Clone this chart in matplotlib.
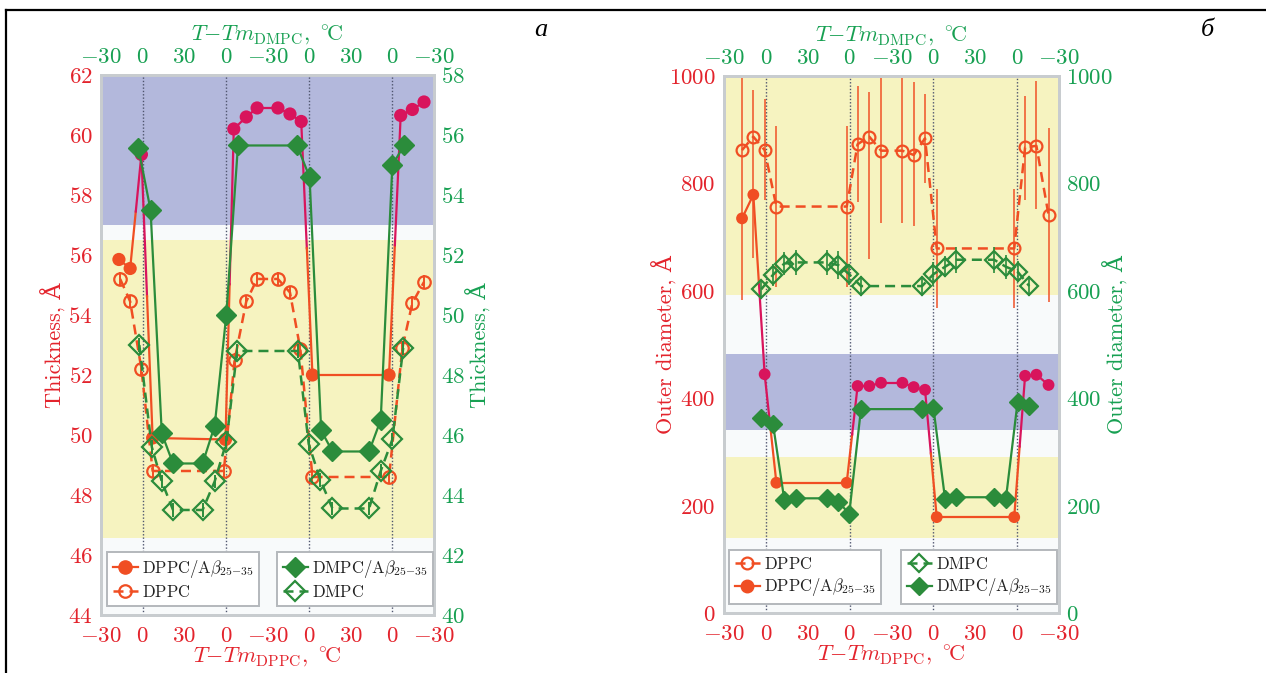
import matplotlib
matplotlib.use("Agg")
import matplotlib.pyplot as plt
from matplotlib.lines import Line2D

plt.rcParams["mathtext.fontset"] = "cm"
plt.rcParams["font.family"] = ["cmr10", "DejaVu Serif"]
plt.rcParams["axes.unicode_minus"] = False

# ---- scan axis: position along the heating/cooling cycle (30 per tick) ----
TICK_POS = [0, 30, 60, 90, 120, 150, 180, 210, 240]
TICK_LABELS = ["-30", "0", "30", "0", "-30", "0", "30", "0", "-30"]
ZERO_LINES = [30, 90, 150, 210]

# ---- panel a: bilayer thickness, A ----
a_dppc_ab_x = [12.9, 21.0, 29.1, 37.2, 89.7, 95.7, 104.7, 112.5, 127.5, 136.2, 144.3, 152.4, 207.6, 216.0, 224.4, 232.8]
a_dppc_ab_y = [55.85, 55.55, 59.35, 49.9, 49.85, 60.2, 60.6, 60.9, 60.9, 60.7, 60.45, 52.0, 52.0, 60.65, 60.85, 61.1]

a_dppc_x = [13.8, 21.0, 29.1, 37.2, 88.5, 96.3, 104.7, 112.5, 127.5, 136.2, 143.7, 152.4, 207.6, 217.2, 224.4, 232.8]
a_dppc_y = [55.2, 54.45, 52.2, 48.8, 48.8, 52.5, 54.45, 55.2, 55.2, 54.75, 52.85, 48.6, 48.6, 52.9, 54.4, 55.1]

a_dmpc_ab_x = [27.0, 35.7, 43.8, 51.9, 73.2, 81.9, 90.3, 98.7, 141.3, 150.3, 158.7, 166.8, 193.2, 201.6, 210.0, 218.4]
a_dmpc_ab_y = [55.55, 53.5, 46.05, 45.05, 45.05, 46.3, 50.0, 55.65, 55.65, 54.6, 46.15, 45.45, 45.45, 46.5, 55.0, 55.65]

a_dmpc_x = [27.6, 36.6, 43.8, 51.9, 73.2, 81.9, 90.3, 98.1, 141.9, 149.7, 158.1, 166.8, 193.2, 201.6, 210.0, 217.8]
a_dmpc_y = [49.0, 45.6, 44.45, 43.5, 43.5, 44.45, 45.75, 48.8, 48.8, 45.7, 44.5, 43.55, 43.55, 44.8, 45.85, 48.9]
a_err = 0.22

a_blue_band = (57.0, 62.0)
a_yellow_band = (46.55, 56.5)

# ---- panel b: outer vesicle diameter, A ----
b_dppc_x = [12.9, 21.0, 29.1, 37.5, 87.9, 95.7, 104.1, 112.5, 127.8, 135.9, 144.0, 152.4, 207.9, 215.7, 223.8, 232.5]
b_dppc_y = [862, 887, 862, 757, 757, 873, 887, 861, 861, 853, 884, 679, 679, 867, 870, 741]
b_dppc_lo = [583, 661, 769, 608, 608, 766, 659, 727, 727, 720, 800, 568, 568, 769, 752, 580]
b_dppc_hi = [996, 973, 958, 906, 906, 981, 971, 996, 996, 988, 966, 789, 789, 963, 991, 903]
b_dppc_ab_y = [735, 779, 445, 243, 243, 423, 423, 429, 429, 421, 416, 179, 179, 442, 444, 425]

b_dmpc_x = [26.7, 35.1, 43.2, 51.6, 73.5, 81.9, 89.7, 98.1, 141.9, 150.0, 158.4, 166.5, 193.5, 201.9, 210.3, 218.7]
b_dmpc_y = [603, 630, 651, 653, 653, 648, 631, 609, 609, 631, 645, 658, 658, 645, 636, 609]
b_dmpc_err = [18, 20, 22, 24, 24, 26, 20, 18, 18, 22, 20, 24, 24, 22, 20, 18]
b_dmpc_ab_y = [364, 352, 211, 214, 214, 208, 185, 380, 380, 383, 212, 216, 216, 212, 393, 385]

b_yellow_bands = [(592, 1000), (141, 290)]
b_blue_band = (342, 482)

# ---- colours ----
RED_TXT = "#e3232c"
GREEN_TXT = "#17a052"
ORANGE = "#f04e23"
CRIMSON = "#d8145c"
GREEN = "#2b8c3b"
BLUE_BAND = "#b3b8dc"
YELLOW_BAND = "#f6f3c0"
FRAME = "#c8cccf"
DOT = "#4f556e"

TICK_FS = 16.5
LABEL_FS = 16
LEG_FS = 12
DASH = (0, (4, 2.4))


def math(s):
    return "$" + s + "$"


def two_tone(ax, x, y, band, ms, lw):
    """Filled series: points inside the blue band in crimson, others orange."""
    cols = [CRIMSON if band[0] <= v <= band[1] else ORANGE for v in y]
    for i in range(len(x) - 1):
        if cols[i] == cols[i + 1]:
            ax.plot(x[i:i + 2], y[i:i + 2], color=cols[i], lw=lw, zorder=3,
                    solid_capstyle="round")
        else:
            xm, ym = (x[i] + x[i + 1]) / 2, (y[i] + y[i + 1]) / 2
            ax.plot([x[i], xm], [y[i], ym], color=cols[i], lw=lw, zorder=3)
            ax.plot([xm, x[i + 1]], [ym, y[i + 1]], color=cols[i + 1], lw=lw, zorder=3)
    ax.scatter(x, y, s=ms ** 2, c=cols, zorder=4, linewidths=0)


def style_axes(ax, ax2, ylim_l, ylim_r, yt_l, yt_r, yname, pads):
    ax.set_facecolor("#f8fafb")
    ax.set_xlim(0, 240)
    ax.set_ylim(*ylim_l)
    ax2.set_ylim(*ylim_r)
    ax.set_xticks(TICK_POS, [math(t) for t in TICK_LABELS])
    ax.set_yticks(yt_l, [math(str(t)) for t in yt_l])
    ax2.set_yticks(yt_r, [math(str(t)) for t in yt_r])
    ax.tick_params(axis="x", length=0, pad=8, labelsize=TICK_FS, labelcolor=RED_TXT)
    ax.tick_params(axis="y", length=0, pad=6, labelsize=TICK_FS, labelcolor=RED_TXT)
    ax2.tick_params(axis="y", length=0, pad=5, labelsize=TICK_FS, labelcolor=GREEN_TXT)

    top = ax.secondary_xaxis("top")
    top.set_xticks(TICK_POS, [math(t) for t in TICK_LABELS])
    top.tick_params(length=0, pad=6, labelsize=TICK_FS, labelcolor=GREEN_TXT)
    top.set_xlabel(r"$T{-}Tm_{\mathrm{DMPC}},\ {}^{\circ}\!\mathrm{C}$", fontsize=LABEL_FS,
                   color=GREEN_TXT, labelpad=5)
    ax.set_xlabel(r"$T{-}Tm_{\mathrm{DPPC}},\ {}^{\circ}\!\mathrm{C}$", fontsize=LABEL_FS,
                  color=RED_TXT, labelpad=0)
    ax.set_ylabel(yname + ", Å", fontsize=LABEL_FS, color=RED_TXT, labelpad=pads[0])
    ax2.set_ylabel(yname + ", Å", fontsize=LABEL_FS, color=GREEN_TXT, labelpad=pads[1])
    for a in (ax, ax2, top):
        for sp in a.spines.values():
            sp.set_color(FRAME)
            sp.set_linewidth(2)
    for xz in ZERO_LINES:
        ax.axvline(xz, color=DOT, lw=1.0, ls=(0, (1, 1.4)), zorder=1)


def legend(ax, handles, labels, loc, anchor):
    leg = ax.legend(handles, labels, loc=loc, bbox_to_anchor=anchor, borderaxespad=0,
                    fontsize=LEG_FS, frameon=True, fancybox=False, framealpha=1,
                    handlelength=1.5, handletextpad=0.25, labelspacing=0.25,
                    borderpad=0.35)
    leg.get_frame().set_edgecolor("#b4b8bc")
    leg.get_frame().set_linewidth(1.4)
    leg.set_zorder(10)
    for t in leg.get_texts():
        t.set_color("#222222")
    return leg


LAB_AB = r"$\mathrm{DPPC/A}\beta_{25{-}35}$"
LAB_DPPC = r"$\mathrm{DPPC}$"
LAB_MAB = r"$\mathrm{DMPC/A}\beta_{25{-}35}$"
LAB_DMPC = r"$\mathrm{DMPC}$"

fig = plt.figure(figsize=(12.66, 6.73), dpi=100)

# ================= panel a =================
ax = fig.add_axes([0.0798, 0.0862, 0.263, 0.8024])
ax2 = ax.twinx()
ax.axhspan(*a_blue_band, color=BLUE_BAND, lw=0, zorder=0)
ax.axhspan(*a_yellow_band, color=YELLOW_BAND, lw=0, zorder=0)
style_axes(ax, ax2, (44, 62), (40, 58), list(range(44, 63, 2)), list(range(40, 59, 2)),
           "Thickness", (2, 0))

two_tone(ax, a_dppc_ab_x, a_dppc_ab_y, a_blue_band, 9.5, 1.6)
ax.errorbar(a_dppc_x, a_dppc_y, yerr=a_err, fmt="none", ecolor=ORANGE, elinewidth=1.4, zorder=3)
h_dppc, = ax.plot(a_dppc_x, a_dppc_y, ls=DASH, lw=1.8, color=ORANGE, marker="o", ms=9,
                  mfc="none", mec=ORANGE, mew=1.6, zorder=3)

ax2.plot(a_dmpc_ab_x, a_dmpc_ab_y, color=GREEN, lw=1.6, zorder=3)
ax2.plot(a_dmpc_ab_x, a_dmpc_ab_y, ls="none", marker="D", ms=10, color=GREEN, zorder=4)
ax2.errorbar(a_dmpc_x, a_dmpc_y, yerr=a_err, fmt="none", ecolor=GREEN, elinewidth=1.4, zorder=3)
h_dmpc, = ax2.plot(a_dmpc_x, a_dmpc_y, ls=DASH, lw=1.8, color=GREEN, marker="D", ms=10,
                   mfc="none", mec=GREEN, mew=1.6, zorder=3)

h_ab = Line2D([], [], color=ORANGE, lw=1.6, marker="o", ms=9.5)
h_mab = Line2D([], [], color=GREEN, lw=1.6, marker="D", ms=10)
legend(ax, [h_ab, h_dppc], [LAB_AB, LAB_DPPC], "lower left", (0.018, 0.017))
legend(ax2, [h_mab, h_dmpc], [LAB_MAB, LAB_DMPC], "lower right", (0.997, 0.017))

# ================= panel b =================
bx = fig.add_axes([0.5719, 0.0887, 0.2646, 0.7984])
bx2 = bx.twinx()
for band in b_yellow_bands:
    bx.axhspan(*band, color=YELLOW_BAND, lw=0, zorder=0)
bx.axhspan(*b_blue_band, color=BLUE_BAND, lw=0, zorder=0)
style_axes(bx, bx2, (0, 1000), (0, 1000), list(range(0, 1001, 200)),
           list(range(0, 1001, 200)), "Outer diameter", (-6, -7))

err_b = [[y - lo for y, lo in zip(b_dppc_y, b_dppc_lo)],
         [hi - y for y, hi in zip(b_dppc_y, b_dppc_hi)]]
bx.errorbar(b_dppc_x, b_dppc_y, yerr=err_b, fmt="none", ecolor=ORANGE, elinewidth=1.2,
            alpha=0.9, zorder=2)
hb_dppc, = bx.plot(b_dppc_x, b_dppc_y, ls=DASH, lw=1.8, color=ORANGE, marker="o", ms=8.5,
                   mfc="none", mec=ORANGE, mew=1.6, zorder=3)
two_tone(bx, b_dppc_x, b_dppc_ab_y, b_blue_band, 8.5, 1.6)

bx2.errorbar(b_dmpc_x, b_dmpc_y, yerr=b_dmpc_err, fmt="none", ecolor=GREEN, elinewidth=1.2,
             zorder=3)
hb_dmpc, = bx2.plot(b_dmpc_x, b_dmpc_y, ls=DASH, lw=1.8, color=GREEN, marker="D", ms=9,
                    mfc="none", mec=GREEN, mew=1.6, zorder=3)
bx2.plot(b_dmpc_x, b_dmpc_ab_y, color=GREEN, lw=1.6, zorder=3)
bx2.plot(b_dmpc_x, b_dmpc_ab_y, ls="none", marker="D", ms=9.5, color=GREEN, zorder=4)

hb_ab = Line2D([], [], color=ORANGE, lw=1.6, marker="o", ms=9)
hb_mab = Line2D([], [], color=GREEN, lw=1.6, marker="D", ms=9.5)
legend(bx, [hb_dppc, hb_ab], [LAB_DPPC, LAB_AB], "lower left", (0.015, 0.017))
legend(bx2, [hb_dmpc, hb_mab], [LAB_DMPC, LAB_MAB], "lower right", (0.995, 0.017))

# panel letters and outer frame
fig.text(0.427, 0.955, "а", fontsize=19, fontstyle="italic", family="Liberation Serif",
         ha="center", va="center")
fig.text(0.954, 0.955, "б", fontsize=19, fontstyle="italic", family="Liberation Serif",
         ha="center", va="center")
fig.add_artist(Line2D([0.005, 1.0], [0.985, 0.985], color="black", lw=1.6))
fig.add_artist(Line2D([0.005, 0.005], [0.0, 0.985], color="black", lw=1.6))

fig.savefig("out.png", dpi=100, facecolor="white")
